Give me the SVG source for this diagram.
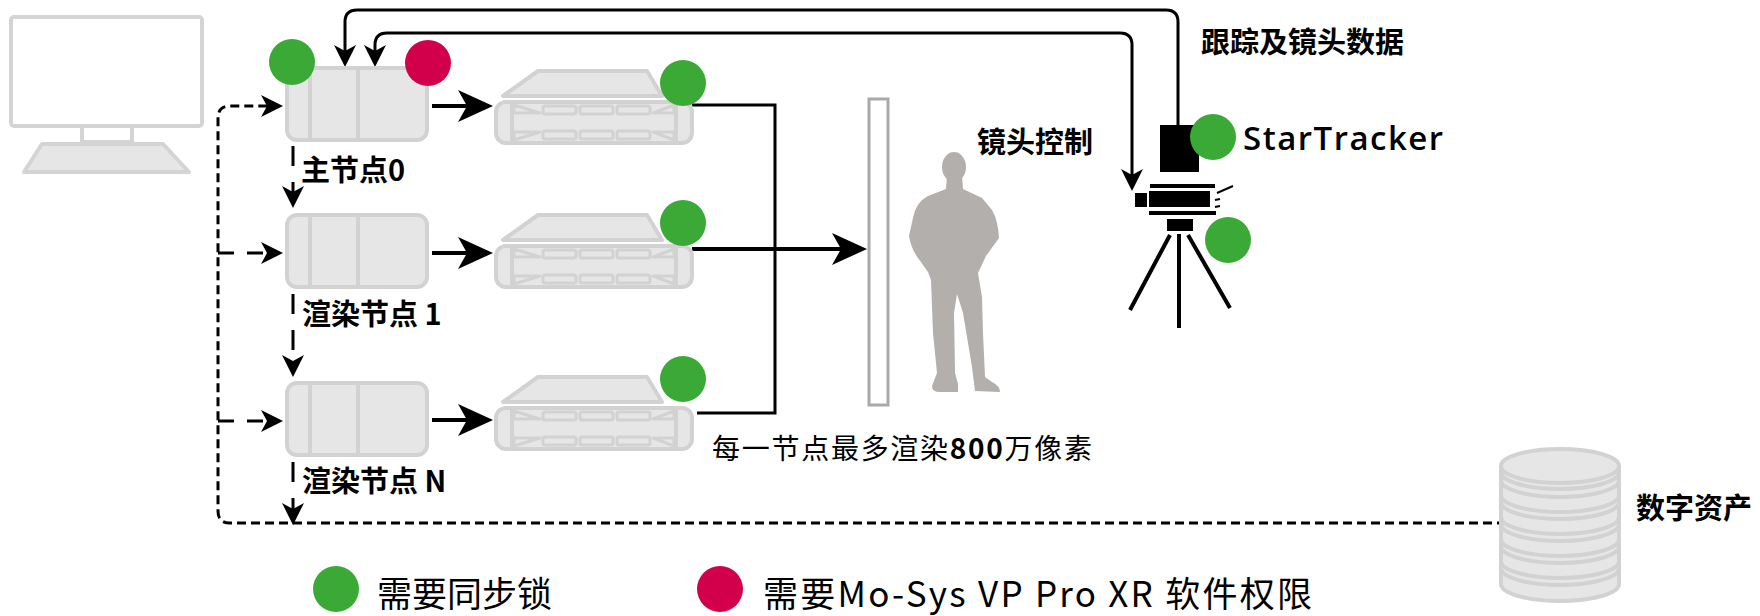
<svg xmlns="http://www.w3.org/2000/svg" xmlns:xlink="http://www.w3.org/1999/xlink" width="1760" height="616" viewBox="0 0 1760 616">
  <style>
    .box{fill:#e6e6e6;stroke:#d2d2d2;stroke-width:4;stroke-linejoin:round}
    .div{fill:none;stroke:#d2d2d2;stroke-width:4}
    .thin{fill:#e6e6e6;stroke:#d2d2d2;stroke-width:3;stroke-linejoin:round}
    .mon{fill:#fff;stroke:#d4d4d4;stroke-width:4;stroke-linejoin:round}
    .sync{fill:#3aa935}
    .lic{fill:#d2004a}
    .lbl{font-family:"Noto Sans CJK SC","Noto Sans",sans-serif;font-weight:700;font-size:29px;fill:#000}
    .leg{font-family:"Noto Sans CJK SC","Noto Sans",sans-serif;font-weight:400;font-size:35px;fill:#000}
    .wire{fill:none;stroke:#000;stroke-width:3}
    .thick{fill:none;stroke:#000;stroke-width:4}
    .loop{fill:none;stroke:#000;stroke-width:3;stroke-dasharray:9 5}
    .step{fill:none;stroke:#000;stroke-width:3;stroke-dasharray:20 16}
    .feed{fill:none;stroke:#000;stroke-width:3;stroke-dasharray:16 13}
    .ink{fill:#000}
    .ink-line{fill:none;stroke:#000}
  </style>
  <defs>
    <marker id="ah-big" markerUnits="userSpaceOnUse" markerWidth="40" markerHeight="40" refX="0" refY="0" orient="auto" overflow="visible">
      <path d="M10 0 L-25 -16 L-16 0 L-25 16 Z" fill="#000"/>
    </marker>
    <marker id="ah-sm" markerUnits="userSpaceOnUse" markerWidth="30" markerHeight="30" refX="0" refY="0" orient="auto-start-reverse" overflow="visible">
      <path d="M6 0 L-16 -11 L-10 0 L-16 11 Z" fill="#000"/>
    </marker>
    <!-- rack server, origin at the left edge of the front panel / top of the lid -->
    <g id="server">
      <path class="box" d="M7 26 L42 1 L151 1 L166 26 Z"/>
      <rect class="box" x="0" y="32" width="196" height="41" rx="10"/>
      <path class="div" d="M16 32 V73 M180 32 V73"/>
      <rect class="thin" x="47" y="36" width="33" height="8" rx="2"/>
      <rect class="thin" x="84" y="36" width="33" height="8" rx="2"/>
      <rect class="thin" x="121" y="36" width="33" height="8" rx="2"/>
      <rect class="thin" x="47" y="61" width="33" height="8" rx="2"/>
      <rect class="thin" x="84" y="61" width="33" height="8" rx="2"/>
      <rect class="thin" x="121" y="61" width="33" height="8" rx="2"/>
      <path class="thin" d="M18 35 L44 43 L18 43 Z M178 35 L157 43 L178 43 Z M18 70 L44 62 L18 62 Z M178 70 L157 62 L178 62 Z"/>
    </g>
    <!-- render node chassis -->
    <g id="chassis">
      <rect class="box" x="0" y="0" width="140" height="72" rx="10"/>
      <path class="div" d="M23 0 V72 M71 0 V72"/>
    </g>
  </defs>

  <!-- operator workstation -->
  <g id="workstation">
    <rect class="mon" x="11" y="17" width="191" height="109" rx="3"/>
    <rect class="mon" x="82" y="126" width="50" height="16"/>
    <path class="box" d="M42 144 L163 144 L189 172 L24 172 Z" style="stroke:#d4d4d4"/>
  </g>

  <!-- connectors -->
  <g id="connectors">
    <!-- tracking + lens data back to the master node -->
    <path class="wire" d="M1178 125 V22 Q1178 10 1166 10 H357 Q345 10 345 22 V61" marker-end="url(#ah-sm)"/>
    <path class="wire" d="M375 61 V45 Q375 33 387 33 H1120 Q1132 33 1132 45 V185" marker-start="url(#ah-sm)" marker-end="url(#ah-sm)"/>
    <!-- genlock / asset distribution loop -->
    <path class="loop" d="M1506 523 H230 Q218 523 218 511 V118 Q218 106 230 106 H277" marker-end="url(#ah-sm)"/>
    <path class="feed" d="M218 253 H277" marker-end="url(#ah-sm)"/>
    <path class="feed" d="M218 421 H277" marker-end="url(#ah-sm)"/>
    <!-- node chain -->
    <path class="step" d="M293 146 V202" marker-end="url(#ah-sm)"/>
    <path class="step" d="M293 294 V371" marker-end="url(#ah-sm)"/>
    <path class="step" d="M293 462 V519" marker-end="url(#ah-sm)"/>
    <!-- node to server -->
    <path class="thick" d="M432 106 H483" marker-end="url(#ah-big)"/>
    <path class="thick" d="M432 253 H483" marker-end="url(#ah-big)"/>
    <path class="thick" d="M432 420 H483" marker-end="url(#ah-big)"/>
    <!-- server outputs to the LED wall -->
    <path class="wire" d="M692 105 H775 V413 H697"/>
    <path class="thick" d="M692 249 H857" marker-end="url(#ah-big)"/>
  </g>

  <!-- render nodes -->
  <g id="node-master">
    <use xlink:href="#chassis" x="287" y="68"/>
    <circle class="sync" cx="292" cy="62" r="23"/>
    <circle class="lic" cx="428" cy="63" r="23"/>
    <text class="lbl" x="301" y="181">主节点0</text>
  </g>
  <g id="node-1">
    <use xlink:href="#chassis" x="287" y="215"/>
    <text class="lbl" x="302" y="325">渲染节点 1</text>
  </g>
  <g id="node-n">
    <use xlink:href="#chassis" x="287" y="383"/>
    <text class="lbl" x="302" y="492">渲染节点 N</text>
  </g>

  <!-- servers -->
  <g id="server-0">
    <use xlink:href="#server" x="496" y="70"/>
    <circle class="sync" cx="683" cy="83" r="23"/>
  </g>
  <g id="server-1">
    <use xlink:href="#server" x="496" y="214"/>
    <circle class="sync" cx="683" cy="223" r="23"/>
  </g>
  <g id="server-n">
    <use xlink:href="#server" x="496" y="376"/>
    <circle class="sync" cx="683" cy="379" r="23"/>
  </g>
  <text x="712" y="459" font-family="Noto Sans CJK SC, Noto Sans, sans-serif" font-size="28" fill="#000" textLength="380">每一节点最多渲染<tspan font-weight="700">800</tspan>万像素</text>

  <!-- LED wall -->
  <g id="led-wall">
    <rect x="869" y="99" width="19" height="306" fill="#fff" stroke="#a9a9a9" stroke-width="3"/>
  </g>

  <!-- talent -->
  <g id="talent" fill="#b2afad">
    <ellipse cx="954" cy="167" rx="12" ry="15"/>
    <path d="M947 176 L946 189 L928 196 Q916 202 913 218 L909 236 Q911 250 921 262 L928 272 L931 280 L933 333 L937 373 L932 386 Q932 392 940 392 L958 392 L958 384 L955 373 L954 313 L957 294 L963 313 L972 367 L975 391 L1000 392 Q1000 386 992 382 L985 377 L983 333 L982 297 L978 273 L986 256 L999 238 Q998 220 992 210 L982 198 L963 189 L962 176 Z"/>
  </g>
  <text class="lbl" x="977" y="153">镜头控制</text>

  <!-- tracked camera -->
  <g id="startracker">
    <rect class="ink" x="1160" y="125" width="39" height="47"/>
    <circle class="sync" cx="1213" cy="137" r="23"/>
    <text x="1243" y="150" font-family="Open Sans, Noto Sans, sans-serif" font-weight="600" font-size="33" fill="#000" textLength="200">StarTracker</text>
  </g>
  <g id="camera">
    <rect class="ink" x="1150" y="184" width="65" height="4"/>
    <rect class="ink" x="1149" y="191" width="61" height="16"/>
    <rect class="ink" x="1135" y="193" width="12" height="14"/>
    <rect class="ink" x="1149" y="211" width="67" height="4"/>
    <rect class="ink" x="1167" y="219" width="26" height="12"/>
    <path class="ink-line" stroke-width="2" d="M1217 193 L1233 186 M1215 200 L1220 199 M1215 207 L1220 206"/>
    <path class="ink-line" stroke-width="4" d="M1170 235 L1130 310 M1179 234 V328 M1188 235 L1230 308"/>
    <circle class="sync" cx="1228" cy="240" r="23"/>
  </g>
  <text class="lbl" x="1201" y="53">跟踪及镜头数据</text>

  <!-- asset storage -->
  <g id="assets">
    <path class="box" d="M1501 466 V584 A59 17 0 0 0 1619 584 V466"/>
    <ellipse class="box" cx="1560" cy="466" rx="59" ry="17"/>
    <path class="div" d="M1501 472 A59 17 0 0 0 1619 472 M1501 480 A59 17 0 0 0 1619 480 M1501 495 A59 17 0 0 0 1619 495 M1501 502 A59 17 0 0 0 1619 502 M1501 517 A59 17 0 0 0 1619 517 M1501 524 A59 17 0 0 0 1619 524 M1501 539 A59 17 0 0 0 1619 539 M1501 546 A59 17 0 0 0 1619 546 M1501 561 A59 17 0 0 0 1619 561 M1501 568 A59 17 0 0 0 1619 568"/>
    <text class="lbl" x="1636" y="519">数字资产</text>
  </g>

  <!-- legend -->
  <g id="legend">
    <circle class="sync" cx="336" cy="589" r="23"/>
    <text class="leg" x="377" y="607">需要同步锁</text>
    <circle class="lic" cx="720" cy="589" r="23"/>
    <text class="leg" x="763" y="607" textLength="549">需要Mo-Sys VP Pro XR 软件权限</text>
  </g>
</svg>
